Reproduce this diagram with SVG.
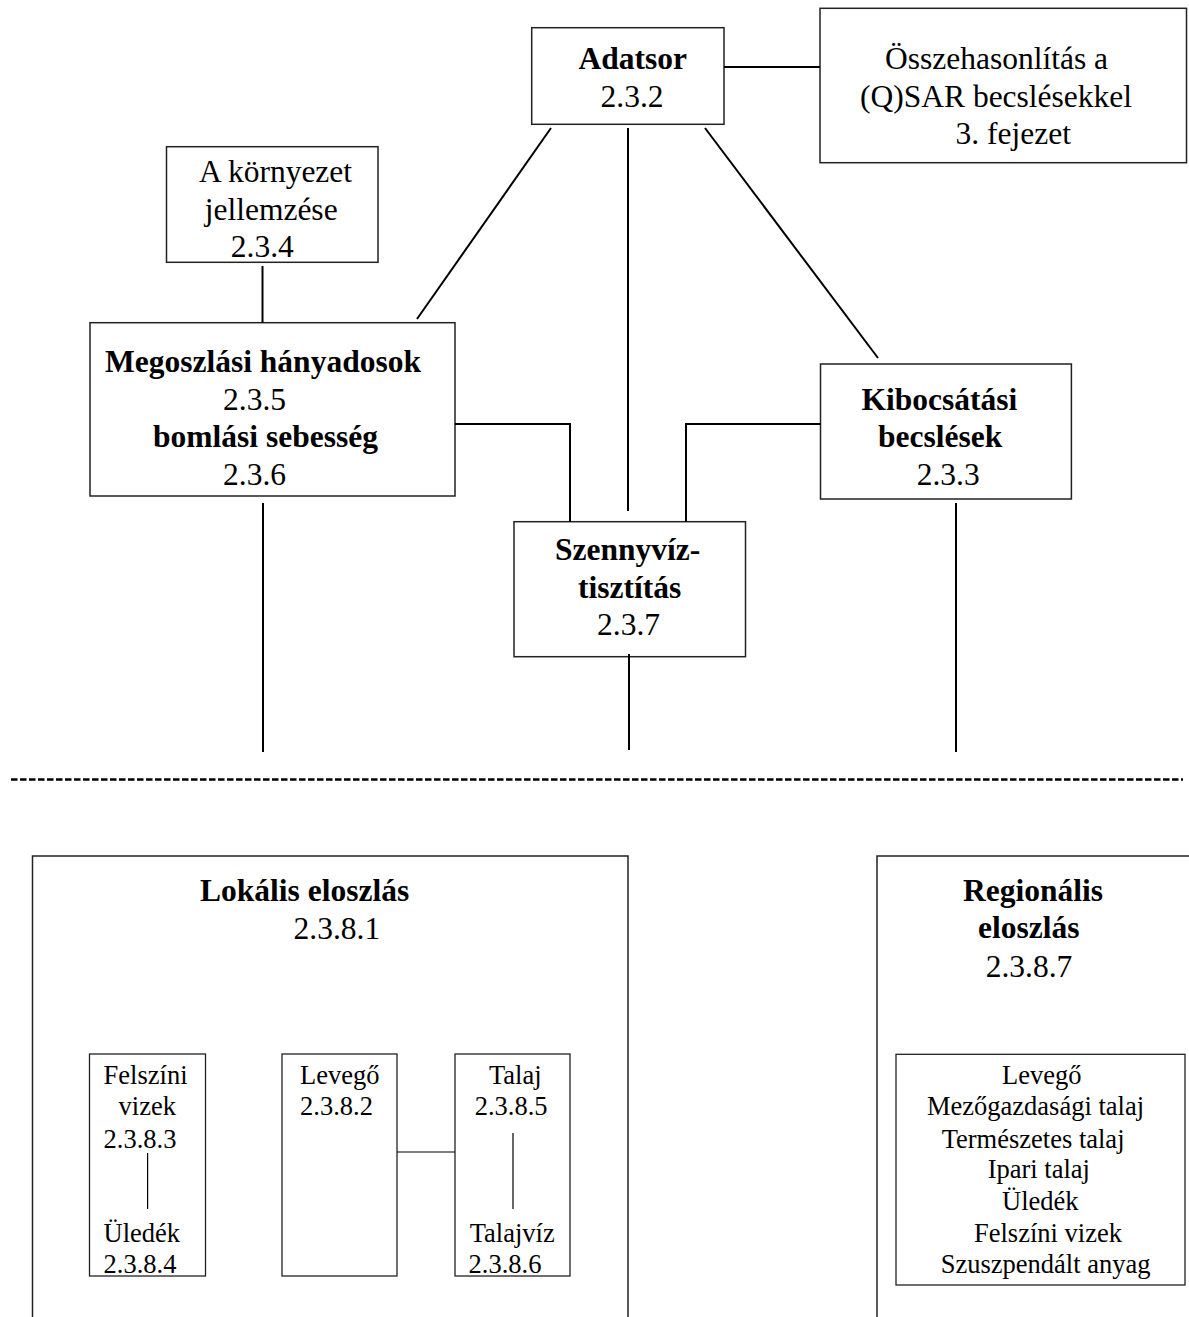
<svg xmlns="http://www.w3.org/2000/svg" width="1189" height="1317" viewBox="0 0 1189 1317">
<style>
.box{fill:#fff;stroke:#222;stroke-width:1.5}
.sbox{fill:#fff;stroke:#222;stroke-width:1.3}
.t{font-family:"Liberation Serif","Times New Roman",serif;font-size:31.5px;fill:#000}
.b{font-weight:bold}
.s{font-family:"Liberation Serif","Times New Roman",serif;font-size:26.5px;fill:#000}
.c{fill:none;stroke:#000;stroke-width:2}
.ci{fill:none;stroke:#000;stroke-width:1.2}
</style>
<rect width="1189" height="1317" fill="#fff"/>
<g id="adatsor">
<rect class="box" x="531.7" y="27.7" width="192.3" height="96.6"/>
<text class="t b" x="578.5" y="69">Adatsor</text>
<text class="t" x="600.5" y="106.7">2.3.2</text>
</g>
<g id="osszehasonlitas">
<rect class="box" x="820" y="8.3" width="366.5" height="154.4"/>
<text class="t" x="885" y="69">Összehasonlítás a</text>
<text class="t" x="860" y="106.7">(Q)SAR becslésekkel</text>
<text class="t" x="955.5" y="144">3. fejezet</text>
</g>
<g id="kornyezet">
<rect class="box" x="166.5" y="146.7" width="211.5" height="115.6"/>
<text class="t" x="199" y="181.7">A környezet</text>
<text class="t" x="204.7" y="220">jellemzése</text>
<text class="t" x="230.8" y="257.3">2.3.4</text>
</g>
<g id="megoszlasi">
<rect class="box" x="90" y="322.7" width="365" height="173.3"/>
<text class="t b" x="105" y="372">Megoszlási hányadosok</text>
<text class="t" x="223" y="409.5">2.3.5</text>
<text class="t b" x="153" y="447">bomlási sebesség</text>
<text class="t" x="223" y="484.5">2.3.6</text>
</g>
<g id="kibocsatasi">
<rect class="box" x="820.5" y="364" width="250.9" height="135"/>
<text class="t b" x="861.5" y="410">Kibocsátási</text>
<text class="t b" x="878" y="446.7">becslések</text>
<text class="t" x="916.7" y="485">2.3.3</text>
</g>
<g id="szennyviz">
<rect class="box" x="514" y="521.7" width="231.5" height="135"/>
<text class="t b" x="555" y="560">Szennyvíz-</text>
<text class="t b" x="578" y="598.3">tisztítás</text>
<text class="t" x="597" y="635">2.3.7</text>
</g>
<g id="lokalis">
<rect class="box" x="32.5" y="856" width="595.5" height="480"/>
<text class="t b" x="200" y="901">Lokális eloszlás</text>
<text class="t" x="293.5" y="939">2.3.8.1</text>
</g>
<g id="felszini">
<rect class="sbox" x="89.5" y="1054" width="116" height="222"/>
<text class="s" x="103.6" y="1084">Felszíni</text>
<text class="s" x="118.6" y="1115">vizek</text>
<text class="s" x="103.6" y="1148">2.3.8.3</text>
<text class="s" x="103.6" y="1242">Üledék</text>
<text class="s" x="103.6" y="1273">2.3.8.4</text>
</g>
<g id="levego">
<rect class="sbox" x="282" y="1054" width="115" height="222"/>
<text class="s" x="300" y="1084">Levegő</text>
<text class="s" x="300" y="1115">2.3.8.2</text>
</g>
<g id="talaj">
<rect class="sbox" x="455" y="1054" width="115" height="222"/>
<text class="s" x="489" y="1084">Talaj</text>
<text class="s" x="474.7" y="1115">2.3.8.5</text>
<text class="s" x="469.7" y="1242">Talajvíz</text>
<text class="s" x="468.5" y="1273">2.3.8.6</text>
</g>
<g id="regionalis">
<rect class="box" x="877" y="856" width="330" height="480"/>
<text class="t b" x="963" y="901">Regionális</text>
<text class="t b" x="978" y="938">eloszlás</text>
<text class="t" x="985.7" y="976.7">2.3.8.7</text>
</g>
<g id="regionalis-lista">
<rect class="sbox" x="896" y="1054.3" width="289" height="230.7"/>
<text class="s" x="1002" y="1084.3">Levegő</text>
<text class="s" x="927" y="1115">Mezőgazdasági talaj</text>
<text class="s" x="941.7" y="1147.7">Természetes talaj</text>
<text class="s" x="987.7" y="1178">Ipari talaj</text>
<text class="s" x="1002" y="1210">Üledék</text>
<text class="s" x="974" y="1241.7">Felszíni vizek</text>
<text class="s" x="940.7" y="1273">Szuszpendált anyag</text>
</g>
<g id="connectors">
<line class="c" x1="724" y1="67" x2="820" y2="67"/>
<line class="c" x1="551" y1="128" x2="417" y2="319"/>
<line class="c" x1="628" y1="128" x2="628" y2="511"/>
<line class="c" x1="705" y1="128" x2="878" y2="358"/>
<line class="c" x1="262.5" y1="266" x2="262.5" y2="322.7"/>
<polyline class="c" points="455,424 570,424 570,521.7"/>
<polyline class="c" points="820.5,424 686,424 686,521.7"/>
<line class="c" x1="263" y1="503" x2="263" y2="752"/>
<line class="c" x1="629" y1="654" x2="629" y2="750"/>
<line class="c" x1="956" y1="503" x2="956" y2="752"/>
<line x1="11" y1="779.5" x2="1183" y2="779.5" stroke="#000" stroke-width="2.5" stroke-dasharray="6.5 2.5"/>
<line class="ci" x1="147.6" y1="1153" x2="147.6" y2="1209"/>
<line class="ci" x1="397" y1="1152" x2="455" y2="1152"/>
<line class="ci" x1="513" y1="1133" x2="513" y2="1209"/>
</g>
</svg>
